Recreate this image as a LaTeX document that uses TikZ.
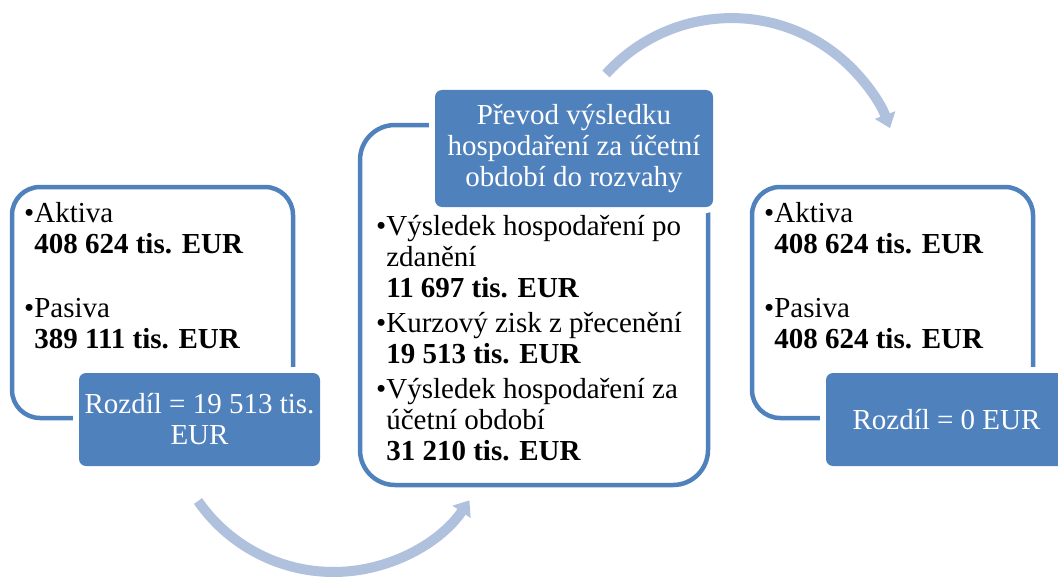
\documentclass[tikz,border=0pt]{standalone}
\usepackage{fontspec}
\setmainfont{Liberation Serif}
\usetikzlibrary{arrows.meta, positioning}
\definecolor{boxblue}{RGB}{79,129,189}
\definecolor{arrowblue}{RGB}{176,193,222}
\tikzset{
  outerbox/.style  = {draw=boxblue, line width=4.5pt, fill=white, inner sep=0pt}, % white frame round the items
  labelbox/.style  = {fill=boxblue, rounded corners=7pt, text=white, align=center, inner sep=0pt,
                      preaction={draw=white, line width=12pt}}, % white rim cuts the frame
  itemtext/.style  = {anchor=base west, align=left, inner sep=0pt}, % base = last line
  looparrow/.style = {draw=arrowblue, line width=10pt, -{Triangle[width=21pt,length=14pt]}}
}

\begin{document}
\begin{tikzpicture}
  [
    x = 1pt, y = -1pt,
    every node/.style = {font=\fontsize{29}{31}\selectfont}
  ]
  \useasboundingbox (0,0) rectangle (1058,578);

  % before
  \node [outerbox, rounded corners=28pt, minimum width=281pt, minimum height=231pt] (before) at (152.5,302.5) {};
  \node [itemtext] (beforetext) at (24,348)
    {•Aktiva\\ \phantom{•}\textbf{408 624 tis. EUR}\\[33pt]
     •Pasiva\\ \phantom{•}\textbf{389 111 tis. EUR}};
  \node [labelbox, minimum width=241pt, minimum height=93pt] (diffbefore) at (199.5,419.5)
    {Rozdíl = 19 513 tis.\\EUR};

  % transfer
  \node [outerbox, rounded corners=35pt, minimum width=348pt, minimum height=360pt] (transfer) at (534,305) {};
  \node [labelbox, minimum width=278pt, minimum height=117pt] (transferhead) at (574,148.5)
    {Převod výsledku\\hospodaření za účetní\\období do rozvahy};
  \node [itemtext] (transfertext) at (376,460)
    {•Výsledek hospodaření po\\ \phantom{•}zdanění\\ \phantom{•}\textbf{11 697 tis. EUR}\\[4pt]
     •Kurzový zisk z přecenění\\ \phantom{•}\textbf{19 513 tis. EUR}\\[4pt]
     •Výsledek hospodaření za\\ \phantom{•}účetní období\\ \phantom{•}\textbf{31 210 tis. EUR}};

  % after
  \node [outerbox, rounded corners=28pt, minimum width=281pt, minimum height=231pt] (after) at (892.5,302.5) {};
  \node [itemtext] (aftertext) at (764,348)
    {•Aktiva\\ \phantom{•}\textbf{408 624 tis. EUR}\\[33pt]
     •Pasiva\\ \phantom{•}\textbf{408 624 tis. EUR}};
  \node [labelbox, minimum width=241pt, minimum height=93pt] (diffafter) at (946.5,419.5)
    {Rozdíl = 0 EUR};

  % cycle arrows
  \coordinate (lowstart) at (198,501);
  \coordinate (highstart) at (606,74);
  \draw [looparrow] (lowstart) arc [start angle=145.3, end angle=34.4, radius=164.8];
  \draw [looparrow] (highstart) arc [start angle=222, end angle=339.6, radius=169];
\end{tikzpicture}
\end{document}
